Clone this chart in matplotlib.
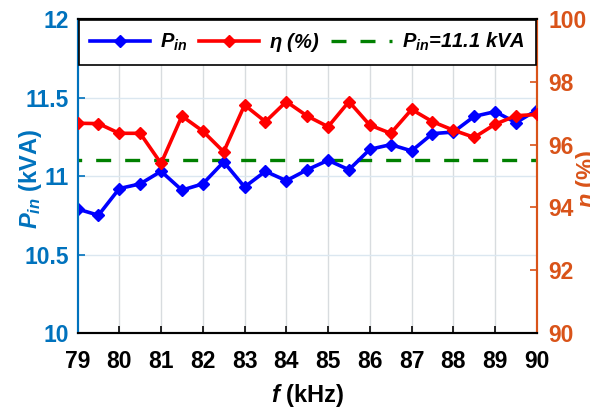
import matplotlib
matplotlib.use("Agg")
import matplotlib.pyplot as plt
import numpy as np

plt.rcParams['font.family'] = ['Liberation Sans', 'DejaVu Sans']
plt.rcParams['font.weight'] = 'bold'
plt.rcParams['mathtext.fontset'] = 'custom'
plt.rcParams['mathtext.it'] = 'Liberation Sans:italic:bold'
plt.rcParams['mathtext.rm'] = 'Liberation Sans:bold'
plt.rcParams['mathtext.bf'] = 'Liberation Sans:bold'

freq = [79, 79.5, 80, 80.5, 81, 81.5, 82, 82.5, 83, 83.5, 84, 84.5, 85, 85.5,
        86, 86.5, 87, 87.5, 88, 88.5, 89, 89.5, 90]
p_in = [10.79, 10.75, 10.92, 10.95, 11.03, 10.91, 10.95, 11.09, 10.93, 11.03,
        10.97, 11.04, 11.10, 11.04, 11.17, 11.20, 11.16, 11.27, 11.28, 11.38,
        11.41, 11.34, 11.42]
eta = [96.68, 96.67, 96.36, 96.36, 95.40, 96.91, 96.43, 95.77, 97.26, 96.73,
       97.37, 96.91, 96.57, 97.37, 96.62, 96.36, 97.12, 96.73, 96.46, 96.23,
       96.65, 96.92, 96.96]
p_ref = 11.1

xticks = list(range(79, 91))
yticks_left = [10, 10.5, 11, 11.5, 12]
ytick_left_labels = ['10', '10.5', '11', '11.5', '12']
yticks_right = [90, 92, 94, 96, 98, 100]

BLUE_AX = '#0072BD'
ORANGE_AX = '#D95319'

fig = plt.figure(figsize=(5.9, 4.08), dpi=100)
ax = fig.add_axes([0.1314, 0.1838, 0.7786, 0.7696])
ax2 = ax.twinx()

# grid
for xv in xticks[1:-1]:
    ax.axvline(xv, color='#d8dcdf', lw=1.0, zorder=0)
for yv in yticks_left[1:-1]:
    ax.axhline(yv, color='#dbe7f0', lw=1.0, zorder=0)

lref, = ax.plot([79, 90], [p_ref, p_ref], color='#008000', lw=2.4,
                linestyle=(3.4, (4.5, 4.2)), label=r'$P_{in}$=11.1 kVA', zorder=2)
lp, = ax.plot(freq, p_in, color='#0000FF', lw=2.6, marker='D', markersize=6.5,
              label=r'$P_{in}$', zorder=3)
le, = ax2.plot(freq, eta, color='#FF0000', lw=2.6, marker='D', markersize=6.5,
               label=r'$\eta$ (%)', zorder=3)

ax.set_xlim(79, 90)
ax.set_ylim(10, 12)
ax2.set_ylim(90, 100)
ax.set_xticks(xticks)
ax.set_yticks(yticks_left)
ax.set_yticklabels(ytick_left_labels)
ax2.set_yticks(yticks_right)

ax.tick_params(axis='x', direction='in', length=5, width=1.2, colors='black',
               labelsize=16.5, pad=12, top=False)
ax.tick_params(axis='y', direction='in', length=5, width=1.2, colors=BLUE_AX,
               labelsize=16.5, pad=6)
ax2.tick_params(axis='y', direction='in', length=5, width=1.2, colors=ORANGE_AX,
                labelsize=16.5, pad=8)
for lab in ax.get_xticklabels() + ax.get_yticklabels() + ax2.get_yticklabels():
    lab.set_fontweight('bold')

for a in (ax, ax2):
    a.spines['top'].set_color('black')
    a.spines['bottom'].set_color('black')
    a.spines['left'].set_color(BLUE_AX)
    a.spines['right'].set_color(ORANGE_AX)
    for s in a.spines.values():
        s.set_linewidth(1.5)

ax.set_xlabel(r'$f$ (kHz)', fontsize=17, fontweight='bold')
ax.xaxis.set_label_coords(0.5, -0.157)
ax.set_ylabel(r'$P_{in}$ (kVA)', fontsize=17, fontweight='bold', color=BLUE_AX)
ax.yaxis.set_label_coords(-0.072, 0.49)
ax2.set_ylabel(r'$\eta$ (%)', fontsize=17, fontweight='bold', color=ORANGE_AX)
ax2.yaxis.set_label_coords(1.081, 0.49)

leg = ax2.legend(handles=[lp, le, lref], loc='upper left', ncol=3,
                 mode='expand', bbox_to_anchor=(0.003, 0.0, 0.994, 0.997),
                 borderaxespad=0.0, fancybox=False, framealpha=1,
                 edgecolor='black', handlelength=3.0, columnspacing=0.6,
                 handletextpad=0.5, borderpad=0.55,
                 prop={'size': 14.5, 'weight': 'bold', 'style': 'italic'})
leg.get_frame().set_linewidth(1.2)
leg.get_lines()[2].set_linestyle((0, (4.5, 4.2)))

fig.savefig('out.png', dpi=100)
